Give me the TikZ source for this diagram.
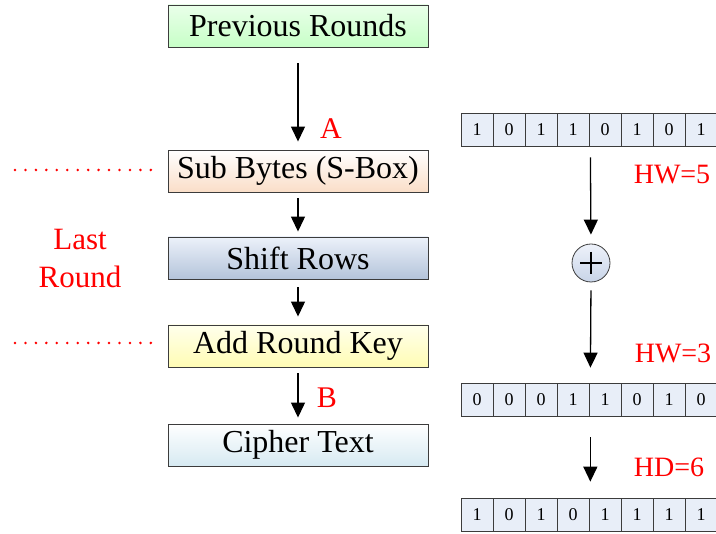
\documentclass[tikz,border=0pt]{standalone}
\usepackage{fontspec}
\setmainfont{Liberation Serif}
\usetikzlibrary{arrows.meta,shadows,calc}
\definecolor{redtxt}{RGB}{255,0,0}
\definecolor{cellfill}{RGB}{232,238,248}
\definecolor{boxborder}{RGB}{60,60,60}
\tikzset{
  stage/.style={draw=boxborder, line width=0.9pt, minimum width=260pt, minimum height=42pt,
    inner sep=0pt, font=\fontsize{32}{36}\selectfont,
    drop shadow={shadow xshift=1.2pt, shadow yshift=-1.5pt, fill=black!70, opacity=0.8}},
  bitcell/.style={draw=boxborder, line width=0.7pt, fill=cellfill, minimum width=32pt,
    minimum height=33pt, inner sep=0pt, font=\fontsize{18}{20}\selectfont},
  flow/.style={line width=1.3pt, -{Triangle[width=14pt,length=15pt]}},
  redlab/.style={text=redtxt, font=\fontsize{28}{32}\selectfont, inner sep=0pt},
  reddots/.style={redtxt, line width=2.8pt, line cap=round, dash pattern=on 0pt off 10.45pt},
}
\begin{document}
\begin{tikzpicture}[x=1pt,y=-1pt]
\useasboundingbox (0,0) rectangle (716,534);
% left column
\node[stage, top color=white!30!green!12, bottom color=green!22] (prev) at (298,26) {Previous Rounds};
\node[stage, top color=white, bottom color={rgb,255:red,250;green,222;blue,200}] (sub) at (298,171) {Sub Bytes (S-Box)};
\node[stage, top color={rgb,255:red,236;green,241;blue,250}, bottom color={rgb,255:red,180;green,196;blue,218}] (shift) at (298,258) {Shift Rows};
\node[stage, top color={rgb,255:red,255;green,255;blue,236}, bottom color={rgb,255:red,255;green,252;blue,180}] (add) at (298,346) {Add Round Key};
\node[stage, top color=white, bottom color={rgb,255:red,214;green,234;blue,242}] (ct) at (298,445) {Cipher Text};

\draw[flow, shorten <=16pt, shorten >=8pt] (prev) -- (sub);
\draw[flow, shorten <=6pt, shorten >=5pt] (sub) -- (shift);
\draw[flow, shorten <=8pt, shorten >=8pt] (shift) -- (add);
\draw[flow, shorten <=6pt, shorten >=6pt] (add) -- (ct);

\node[redlab, font=\fontsize{30}{34}\selectfont] (lA) at (331,129) {A};
\node[redlab, font=\fontsize{30}{34}\selectfont] (lB) at (327,398) {B};

\draw[reddots] (15,170) -- (152,170);
\draw[reddots] (15,343) -- (152,343);
\node[redlab, align=center, font=\fontsize{31}{38}\selectfont] (last) at (80,259) {Last\\Round};

% bit rows
\foreach \r/\y/\bits in {1/129.5/{1,0,1,1,0,1,0,1}, 2/399.5/{0,0,0,1,1,0,1,0}, 3/514.5/{1,0,1,0,1,1,1,1}} {
  \foreach \b [count=\k] in \bits {
    \node[bitcell] (r\r c\k) at ({477+32*(\k-1)},\y) {\b};
  }
}
\node[draw=boxborder, line width=0.8pt, circle, minimum size=38pt, inner sep=0pt,
  top color={rgb,255:red,238;green,242;blue,250}, bottom color={rgb,255:red,200;green,212;blue,232}] (xor) at (591,263) {};
\draw[line width=1.1pt] ($(xor.center)+(-11,0)$) -- ($(xor.center)+(11,0)$);
\draw[line width=1.1pt] ($(xor.center)+(0,-11)$) -- ($(xor.center)+(0,11)$);

\coordinate (t1) at ($(r1c4.south east)+(1,0)$);
\coordinate (t2) at ($(r2c4.north east)+(1,0)$);
\coordinate (b2) at ($(r2c4.south east)+(1,0)$);
\coordinate (t3) at ($(r3c4.north east)+(1,0)$);
\draw[flow, shorten <=11pt, shorten >=9pt] (t1) -- (xor.north);
\draw[flow, shorten <=8pt, shorten >=15pt] (xor.south) -- (t2);
\draw[flow, shorten <=21pt, shorten >=16pt] (b2) -- (t3);

\node[redlab] (hw5) at (672,175) {HW=5};
\node[redlab] (hw3) at (673,353) {HW=3};
\node[redlab] (hd6) at (669,467) {HD=6};
\end{tikzpicture}
\end{document}
